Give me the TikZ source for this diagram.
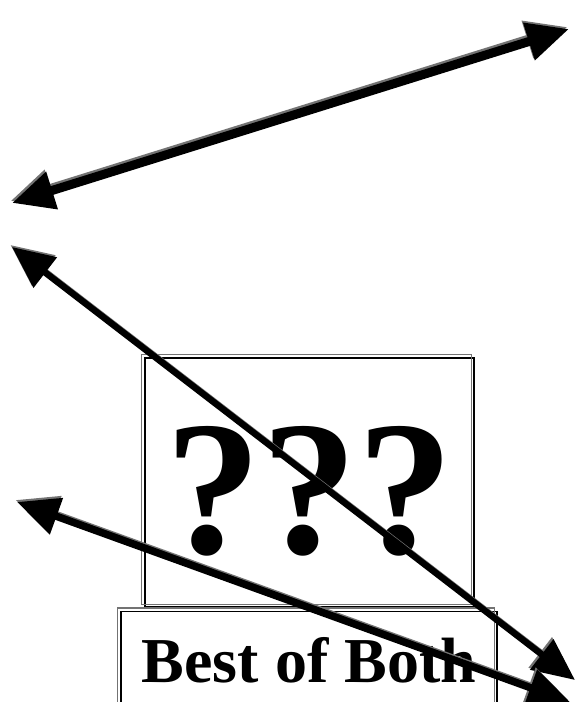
\documentclass[tikz,border=0pt]{standalone}
\usepackage{fontspec}
\setmainfont{Liberation Serif}
\usetikzlibrary{arrows.meta}
\definecolor{shadowgray}{gray}{0.45}

\tikzset{
  boxframe/.style={draw=black, line width=1.3pt, inner sep=0pt},
  bigarrow/.style={{Triangle[length=42pt,width=37pt]}-{Triangle[length=42pt,width=37pt]}, line width=#1},
  arrowshade/.style={shadowgray, transform canvas={xshift=-1.5pt, yshift=2pt}}
}

\begin{document}
\begin{tikzpicture}[x=1pt, y=-1pt]
  \useasboundingbox (0,0) rectangle (576,702);
  \clip (0,0) rectangle (576,702);

  % the two boxes
  \node[boxframe, minimum width=329pt, minimum height=249pt, text height=142pt, text depth=0pt,
        font=\fontsize{192}{192}\selectfont\bfseries] (qbox) at (309.5,482.5) {???};
  \draw[shadowgray, line width=1.3pt] ([shift={(-3,-3)}]qbox.north west) rectangle ([shift={(-3,-3)}]qbox.south east);

  \node[boxframe, anchor=north, minimum width=376pt, text height=71pt, text depth=130pt,
        font=\fontsize{64}{64}\selectfont\bfseries] (best) at (309,611) {Best of Both};
  \draw[shadowgray, line width=1.3pt] ([shift={(-3,-3)}]best.north west) rectangle ([shift={(-3,-3)}]best.south east);

  % arrow ends
  \coordinate (topL) at (12,203);
  \coordinate (topR) at (569,29);
  \coordinate (midL) at (12,247);
  \coordinate (midR) at (575,680);
  \coordinate (lowL) at (17,502);
  \coordinate (lowR) at (570,702);

  \draw[bigarrow=9pt, arrowshade] (topL) -- (topR);
  \draw[bigarrow=9pt] (topL) -- (topR);
  \draw[bigarrow=6.5pt, arrowshade] (midL) -- (midR);
  \draw[bigarrow=6.5pt] (midL) -- (midR);
  \draw[bigarrow=7.5pt, arrowshade] (lowL) -- (lowR);
  \draw[bigarrow=7.5pt] (lowL) -- (lowR);
\end{tikzpicture}
\end{document}
